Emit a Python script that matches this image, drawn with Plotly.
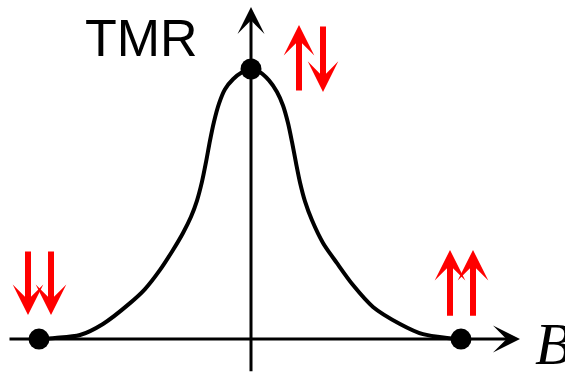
import plotly.graph_objects as go

# TMR response versus applied field B (arbitrary units, peak normalised to 1)
field_b = [-2.12, -1.96, -1.71, -1.48, -1.21, -1.06, -0.91, -0.78, -0.68, -0.60,
           -0.54, -0.49, -0.45, -0.41, -0.37, -0.32, -0.26, -0.18, -0.09, 0.0,
           0.09, 0.18, 0.26, 0.32, 0.37, 0.41, 0.45, 0.49, 0.54, 0.61,
           0.72, 0.86, 1.02, 1.22, 1.49, 1.72, 1.96, 2.10]
tmr = [0.0, 0.004, 0.015, 0.056, 0.133, 0.185, 0.256, 0.330, 0.393, 0.453,
       0.513, 0.583, 0.655, 0.735, 0.805, 0.872, 0.925, 0.962, 0.988, 1.0,
       0.988, 0.958, 0.915, 0.865, 0.800, 0.730, 0.652, 0.580, 0.510, 0.440,
       0.356, 0.281, 0.200, 0.119, 0.056, 0.018, 0.004, 0.0]

# Marked states: antiparallel at zero field, parallel at large |B|
state_b = [field_b[0], 0.0, field_b[-1]]
state_tmr = [tmr[0], 1.0, tmr[-1]]

# Magnetisation arrows: (x, tail y, head y) in data units
spin_arrows = [
    (-2.23, 0.330, 0.089),
    (-2.00, 0.330, 0.089),
    (0.48, 0.915, 1.163),
    (0.72, 1.163, 0.915),
    (1.99, 0.081, 0.330),
    (2.22, 0.081, 0.330),
]

x_range = [-2.51, 3.14]
y_range = [-0.122, 1.2556]

fig = go.Figure()

fig.add_trace(go.Scatter(
    x=field_b, y=tmr, mode="lines",
    line=dict(color="black", width=4, shape="spline", smoothing=0.8),
    hoverinfo="skip",
))
fig.add_trace(go.Scatter(
    x=state_b, y=state_tmr, mode="markers",
    marker=dict(color="black", size=21),
    hoverinfo="skip",
))

annotations = []
# Axes drawn as arrows
annotations.append(dict(x=2.69, y=0.0, ax=-2.43, ay=0.0, xref="x", yref="y",
                        axref="x", ayref="y", text="", showarrow=True,
                        arrowhead=3, arrowsize=1.5, arrowwidth=3, arrowcolor="black"))
annotations.append(dict(x=0.0, y=1.23, ax=0.0, ay=-0.125, xref="x", yref="y",
                        axref="x", ayref="y", text="", showarrow=True,
                        arrowhead=3, arrowsize=1.5, arrowwidth=3, arrowcolor="black"))

for bx, y_tail, y_head in spin_arrows:
    annotations.append(dict(x=bx, y=y_head, ax=bx, ay=y_tail, xref="x", yref="y",
                            axref="x", ayref="y", text="", showarrow=True,
                            arrowhead=3, arrowsize=0.85, arrowwidth=6,
                            arrowcolor="#ff0000"))

annotations.append(dict(x=-1.10, y=1.115, xref="x", yref="y", text="TMR",
                        showarrow=False, xanchor="center", yanchor="middle",
                        font=dict(family="Liberation Sans, Arial", size=52, color="black")))
annotations.append(dict(x=2.82, y=-0.02, xref="x", yref="y", text="<i>B</i>",
                        showarrow=False, xanchor="left", yanchor="middle",
                        font=dict(family="Liberation Serif, Times New Roman", size=60,
                                  color="black")))

fig.update_layout(
    width=565, height=372,
    margin=dict(l=0, r=0, t=0, b=0),
    paper_bgcolor="white", plot_bgcolor="white",
    showlegend=False,
    xaxis=dict(range=x_range, visible=False, fixedrange=True),
    yaxis=dict(range=y_range, visible=False, fixedrange=True),
    annotations=annotations,
)

fig.write_html("out.html")
